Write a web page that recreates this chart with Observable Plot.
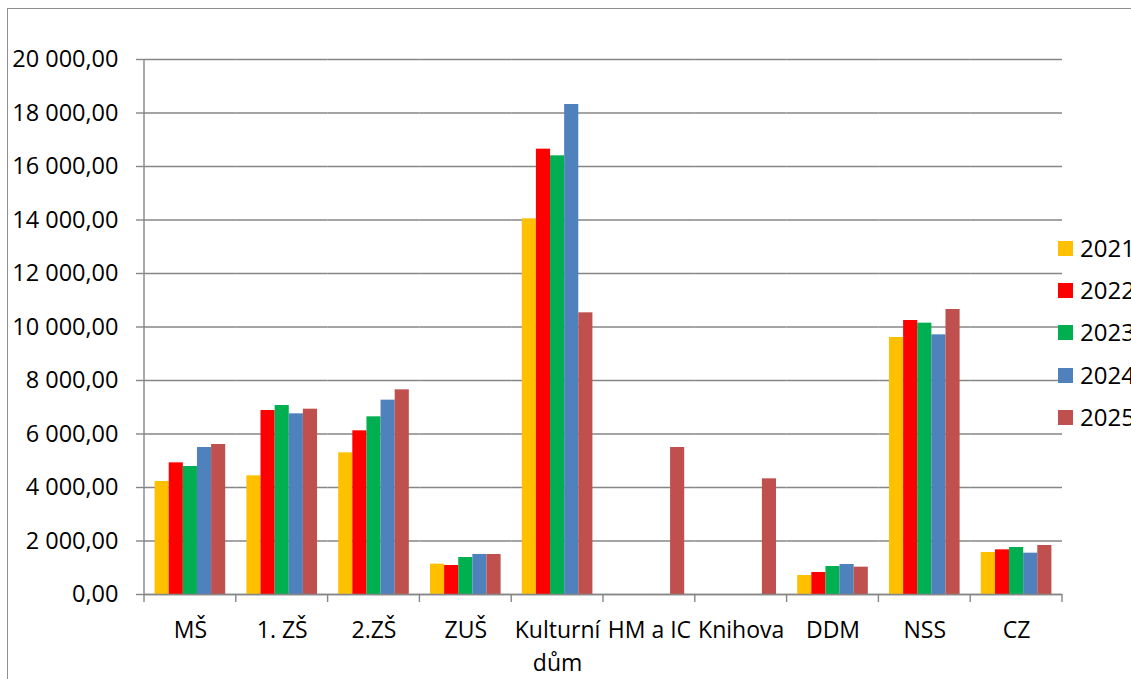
<!DOCTYPE html>
<html>
<head>
<meta charset="utf-8">
<script src="https://cdn.jsdelivr.net/npm/d3@7"></script>
<script src="https://cdn.jsdelivr.net/npm/@observablehq/plot@0.6"></script>
<style>
  html, body { margin: 0; padding: 0; background: #fff; }
  body { width: 1131px; height: 679px; overflow: hidden; position: relative; font-family: "Open Sans", sans-serif; }
  #chart { position: absolute; left: 0; top: 0; }
  #frame { position: absolute; left: 7px; top: 8px; width: 1300px; height: 900px; border: 1px solid #8e8e8e; pointer-events: none; }
  #legend { position: absolute; left: 1058px; top: 0; }
  .item { position: absolute; left: 0; display: flex; align-items: center; white-space: nowrap; font-size: 24px; color: #000; line-height: 1; }
  .sw { width: 15px; height: 15px; margin-right: 7px; flex: none; }
</style>
</head>
<body>
<div id="chart"></div>
<div id="legend"></div>
<div id="frame"></div>
<script>
// ---- data ----
const categories = ["MŠ", "1. ZŠ", "2.ZŠ", "ZUŠ", "Kulturní dům", "HM a IC", "Knihova", "DDM", "NSS", "CZ"];
const years = ["2021", "2022", "2023", "2024", "2025"];
const values2021 = [4224, 4436, 5296, 1134, 14044, null, null, 710, 9607, 1570];
const values2022 = [4922, 6878, 6119, 1084, 16648, null, null, 822, 10243, 1670];
const values2023 = [4785, 7065, 6642, 1383, 16399, null, null, 1047, 10143, 1757];
const values2024 = [5495, 6754, 7265, 1495, 18318, null, null, 1121, 9707, 1545];
const values2025 = [5607, 6928, 7651, 1495, 10530, 5495, 4324, 1022, 10654, 1832];
const yTicks = [0, 2000, 4000, 6000, 8000, 10000, 12000, 14000, 16000, 18000, 20000];
const colors = ["#FFC000", "#FF0000", "#00B050", "#4F81BD", "#C0504D"];

const series = [values2021, values2022, values2023, values2024, values2025];
const table = [];
categories.forEach((c, i) => {
  years.forEach((y, j) => {
    const v = series[j][i];
    if (v != null) table.push({cat: c, year: y, value: v});
  });
});

const czLocale = d3.formatLocale({decimal: ",", thousands: "\u00a0", grouping: [3], currency: ["", " Kč"]});
const fmt = czLocale.format(",.2f");

const W = 1131, H = 679, ML = 144, MR = 69, MT = 59, MB = 85;
const gridColor = "#868686";
const font = '"Open Sans", sans-serif';

const plot = Plot.plot({
  width: W, height: H,
  marginLeft: ML, marginRight: MR, marginTop: MT, marginBottom: MB,
  style: {fontFamily: font, fontSize: "23px", color: "#000", background: "transparent", overflow: "visible"},
  fx: {domain: categories, padding: 0, round: false, label: null},
  x: {domain: years, paddingInner: 0, paddingOuter: 0.75, round: false, axis: null, label: null},
  y: {domain: [0, 20000], axis: null, label: null},
  color: {domain: years, range: colors},
  marks: [
    Plot.gridY({ticks: yTicks, stroke: gridColor, strokeOpacity: 1, strokeWidth: 1.4}),
    Plot.barY(table, {fx: "cat", x: "year", y: "value", fill: "year"}),
    Plot.ruleY([0], {stroke: gridColor, strokeWidth: 1.4}),
    Plot.axisY({ticks: yTicks, tickSize: 8, tickPadding: 18, tickFormat: fmt, label: null, stroke: gridColor, strokeWidth: 1.4, fill: "#000", fontSize: 23.5}),
    Plot.axisFx({anchor: "bottom", tickSize: 0, tickPadding: 21, label: null, fontSize: 23, lineHeight: 1.4, fill: "#000",
      tickFormat: d => d === "Kulturní dům" ? "Kulturní\ndům" : d})
  ]
});
document.getElementById("chart").appendChild(plot);

// category boundary ticks and vertical axis line, positioned with Plot's own scales
const fx = plot.scale("fx");
const ys = plot.scale("y");
const svg = d3.select(plot);
const y0 = ys.apply(0), yTop = ys.apply(20000);
const bounds = categories.map(c => fx.apply(c)).concat([fx.apply(categories[categories.length - 1]) + fx.bandwidth]);
const g = svg.append("g").attr("stroke", gridColor).attr("stroke-width", 1.4);
bounds.forEach(bx => {
  g.append("line").attr("x1", bx).attr("x2", bx).attr("y1", y0).attr("y2", y0 + 8);
});
g.append("line").attr("x1", bounds[0]).attr("x2", bounds[0]).attr("y1", yTop).attr("y2", y0);

// legend
const legendTops = [249, 291, 333, 376, 418];
const legend = document.getElementById("legend");
years.forEach((yr, j) => {
  const it = document.createElement("div");
  it.className = "item";
  it.style.top = (legendTops[j] - 13) + "px";
  it.innerHTML = `<span class="sw" style="background:${colors[j]}"></span><span>${yr}</span>`;
  legend.appendChild(it);
});
</script>
</body>
</html>
